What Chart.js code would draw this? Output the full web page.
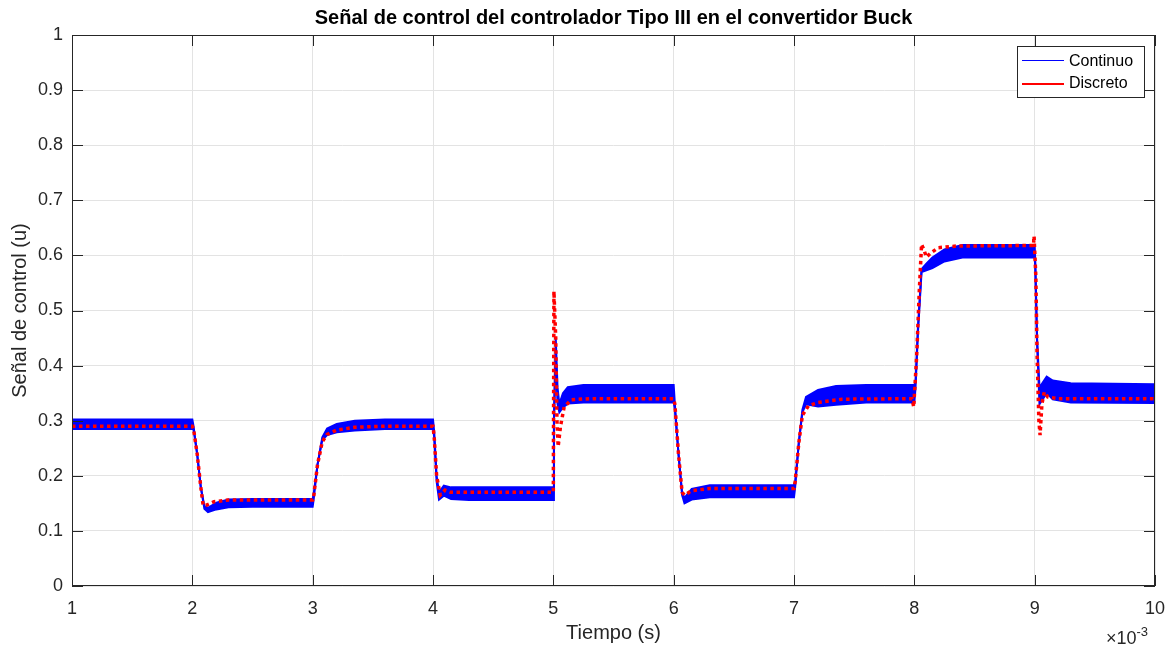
<!DOCTYPE html>
<html>
<head>
<meta charset="utf-8">
<script src="https://cdn.jsdelivr.net/npm/chart.js"></script>
<style>body{margin:0;background:#fff}</style>
</head>
<body>
<canvas id="c" width="1169" height="645"></canvas>
<script>
// tiempo en ms (eje x con factor x10^-3)
const tC = [1.0, 2.0, 2.01, 2.04, 2.07, 2.10, 2.13, 2.20, 2.30, 2.50, 3.0,
  3.01, 3.04, 3.08, 3.12, 3.20, 3.35, 3.60, 4.0,
  4.01, 4.03, 4.05, 4.09, 4.15, 4.30, 5.0,
  5.005, 5.02, 5.035, 5.05, 5.08, 5.12, 5.25, 6.0,
  6.01, 6.04, 6.07, 6.09, 6.15, 6.30, 7.0,
  7.01, 7.04, 7.07, 7.10, 7.20, 7.35, 7.60, 8.0,
  8.01, 8.03, 8.06, 8.10, 8.15, 8.25, 8.40, 9.0,
  9.005, 9.02, 9.04, 9.07, 9.10, 9.15, 9.30, 10.0];
// envolvente del rizado de la señal continua
const cHi = [0.302, 0.302, 0.29, 0.24, 0.18, 0.145, 0.142, 0.151, 0.157, 0.158, 0.158,
  0.17, 0.22, 0.27, 0.286, 0.294, 0.300, 0.302, 0.302,
  0.28, 0.20, 0.17, 0.182, 0.179, 0.179, 0.179,
  0.30, 0.45, 0.36, 0.33, 0.35, 0.361, 0.365, 0.365,
  0.33, 0.24, 0.17, 0.16, 0.176, 0.183, 0.183,
  0.19, 0.26, 0.32, 0.343, 0.356, 0.363, 0.365, 0.365,
  0.37, 0.47, 0.575, 0.585, 0.596, 0.611, 0.619, 0.619,
  0.59, 0.45, 0.36, 0.37, 0.38, 0.373, 0.368, 0.366];
const cLo = [0.285, 0.285, 0.284, 0.24, 0.18, 0.14, 0.134, 0.139, 0.143, 0.144, 0.144,
  0.16, 0.22, 0.265, 0.274, 0.279, 0.282, 0.285, 0.285,
  0.27, 0.19, 0.157, 0.164, 0.158, 0.156, 0.156,
  0.30, 0.42, 0.33, 0.315, 0.324, 0.331, 0.333, 0.333,
  0.32, 0.24, 0.165, 0.15, 0.157, 0.161, 0.161,
  0.18, 0.26, 0.315, 0.33, 0.326, 0.329, 0.333, 0.333,
  0.36, 0.46, 0.57, 0.573, 0.577, 0.589, 0.596, 0.596,
  0.58, 0.44, 0.33, 0.34, 0.35, 0.339, 0.333, 0.332];

const tD = [1.0, 2.0, 2.01, 2.04, 2.07, 2.09, 2.12, 2.18, 2.30, 3.0,
  3.01, 3.04, 3.08, 3.12, 3.20, 3.35, 3.60, 4.0,
  4.01, 4.03, 4.06, 4.10, 4.15, 5.0,
  5.005, 5.02, 5.03, 5.04, 5.06, 5.09, 5.15, 5.30, 6.0,
  6.01, 6.04, 6.07, 6.09, 6.15, 6.30, 7.0,
  7.01, 7.04, 7.07, 7.12, 7.20, 7.40, 7.98,
  7.995, 8.02, 8.04, 8.06, 8.08, 8.10, 8.14, 8.20, 8.35, 8.99,
  8.995, 9.01, 9.02, 9.035, 9.045, 9.06, 9.08, 9.11, 9.20, 10.0];
const dVal = [0.29, 0.29, 0.285, 0.24, 0.18, 0.146, 0.147, 0.153, 0.156, 0.156,
  0.165, 0.22, 0.262, 0.275, 0.283, 0.288, 0.29, 0.29,
  0.27, 0.20, 0.165, 0.174, 0.17, 0.17,
  0.535, 0.45, 0.30, 0.253, 0.29, 0.325, 0.338, 0.34, 0.34,
  0.33, 0.24, 0.17, 0.165, 0.173, 0.177, 0.177,
  0.19, 0.26, 0.31, 0.327, 0.333, 0.339, 0.34,
  0.325, 0.42, 0.53, 0.62, 0.61, 0.597, 0.605, 0.614, 0.617, 0.618,
  0.635, 0.56, 0.42, 0.30, 0.274, 0.33, 0.352, 0.343, 0.34, 0.34];

const xTicks = [1, 2, 3, 4, 5, 6, 7, 8, 9, 10];
const yTicks = [0, 0.1, 0.2, 0.3, 0.4, 0.5, 0.6, 0.7, 0.8, 0.9, 1];

const axisCol = '#262626';
const gridCol = '#e3e3e3';
const fontFam = "'Liberation Sans', Arial, Helvetica, sans-serif";
Chart.defaults.font.family = fontFam;

const pts = (xs, ys) => xs.map((t, i) => ({x: t, y: ys[i]}));

// caja, marcas interiores, leyenda y exponente estilo MATLAB
const matlabBits = {
  id: 'matlabBits',
  afterDraw(chart) {
    const {ctx, chartArea: a, scales: {x, y}} = chart;
    ctx.save();
    ctx.strokeStyle = axisCol;
    ctx.lineWidth = 1;
    ctx.beginPath();
    xTicks.forEach(v => {
      const px = Math.round(x.getPixelForValue(v)) + 0.5;
      ctx.moveTo(px, a.bottom); ctx.lineTo(px, a.bottom - 11);
      ctx.moveTo(px, a.top); ctx.lineTo(px, a.top + 11);
    });
    yTicks.forEach(v => {
      const py = Math.round(y.getPixelForValue(v)) + 0.5;
      ctx.moveTo(a.left, py); ctx.lineTo(a.left + 11, py);
      ctx.moveTo(a.right, py); ctx.lineTo(a.right - 11, py);
    });
    ctx.stroke();
    ctx.strokeRect(Math.round(a.left) + 0.5, Math.round(a.top) + 0.5,
      Math.round(a.right - a.left) - 1, Math.round(a.bottom - a.top) - 1);

    // leyenda
    const lx = 1017, ly = 46, lw = 127, lh = 51;
    ctx.fillStyle = '#fff';
    ctx.fillRect(lx, ly, lw, lh);
    ctx.strokeRect(lx + 0.5, ly + 0.5, lw, lh);
    ctx.lineWidth = 1;
    ctx.strokeStyle = '#0000ff';
    ctx.beginPath(); ctx.moveTo(1022, 60.5); ctx.lineTo(1064, 60.5); ctx.stroke();
    ctx.lineWidth = 2;
    ctx.strokeStyle = '#ff0000';
    ctx.beginPath(); ctx.moveTo(1022, 84); ctx.lineTo(1064, 84); ctx.stroke();
    ctx.fillStyle = '#000';
    ctx.font = '16px ' + fontFam;
    ctx.textBaseline = 'middle';
    ctx.textAlign = 'left';
    ctx.fillText('Continuo', 1069, 62);
    ctx.fillText('Discreto', 1069, 84);

    // x10^-3
    ctx.fillStyle = axisCol;
    ctx.textBaseline = 'alphabetic';
    ctx.font = '18px ' + fontFam;
    ctx.fillText('\u00d710', 1106, 644);
    const w = ctx.measureText('\u00d710').width;
    ctx.font = '13px ' + fontFam;
    ctx.fillText('-3', 1106 + w, 636);
    ctx.restore();
  }
};

new Chart(document.getElementById('c'), {
  type: 'line',
  data: {
    datasets: [
      {
        label: 'Discreto',
        data: pts(tD, dVal),
        borderColor: '#ff0000',
        borderWidth: 3.5,
        borderDash: [3.5, 3.5],
        pointRadius: 0,
        fill: false,
        order: 0
      },
      {
        label: 'Continuo',
        data: pts(tC, cHi),
        borderColor: '#0000ff',
        borderWidth: 2,
        pointRadius: 0,
        fill: false,
        order: 1
      },
      {
        label: 'Continuo (min)',
        data: pts(tC, cLo),
        borderColor: '#0000ff',
        backgroundColor: '#0000ff',
        borderWidth: 2,
        pointRadius: 0,
        fill: '-1',
        order: 2
      }
    ]
  },
  options: {
    responsive: false,
    animation: false,
    layout: {padding: {left: 0, right: 14, top: 0, bottom: 0}},
    plugins: {
      legend: {display: false},
      tooltip: {enabled: false},
      title: {
        display: true,
        fullSize: false,
        text: 'Señal de control del controlador Tipo III en el convertidor Buck',
        color: '#000',
        font: {size: 20, weight: 'bold'},
        padding: {top: 6, bottom: 5}
      }
    },
    scales: {
      x: {
        type: 'linear',
        min: 1, max: 10,
        afterBuildTicks: s => { s.ticks = xTicks.map(v => ({value: v})); },
        afterFit: s => { s.height = 59; s.paddingLeft = 0; s.paddingRight = 0; },
        grid: {color: gridCol, drawTicks: false},
        border: {display: false},
        ticks: {color: axisCol, font: {size: 18}, padding: 12, maxRotation: 0, callback: v => String(v)},
        title: {display: true, text: 'Tiempo (s)', color: axisCol, font: {size: 20}, padding: {top: 0, bottom: 0}}
      },
      y: {
        min: 0, max: 1,
        afterBuildTicks: s => { s.ticks = yTicks.map(v => ({value: v})); },
        afterFit: s => { s.width = 72; s.paddingTop = 0; s.paddingBottom = 0; },
        grid: {color: gridCol, drawTicks: false},
        border: {display: false},
        ticks: {color: axisCol, font: {size: 18}, padding: 9, callback: v => String(v)},
        title: {display: true, text: 'Señal de control (u)', color: axisCol, font: {size: 20}, padding: {top: 8, bottom: 0}}
      }
    }
  },
  plugins: [matlabBits]
});
</script>
</body>
</html>
